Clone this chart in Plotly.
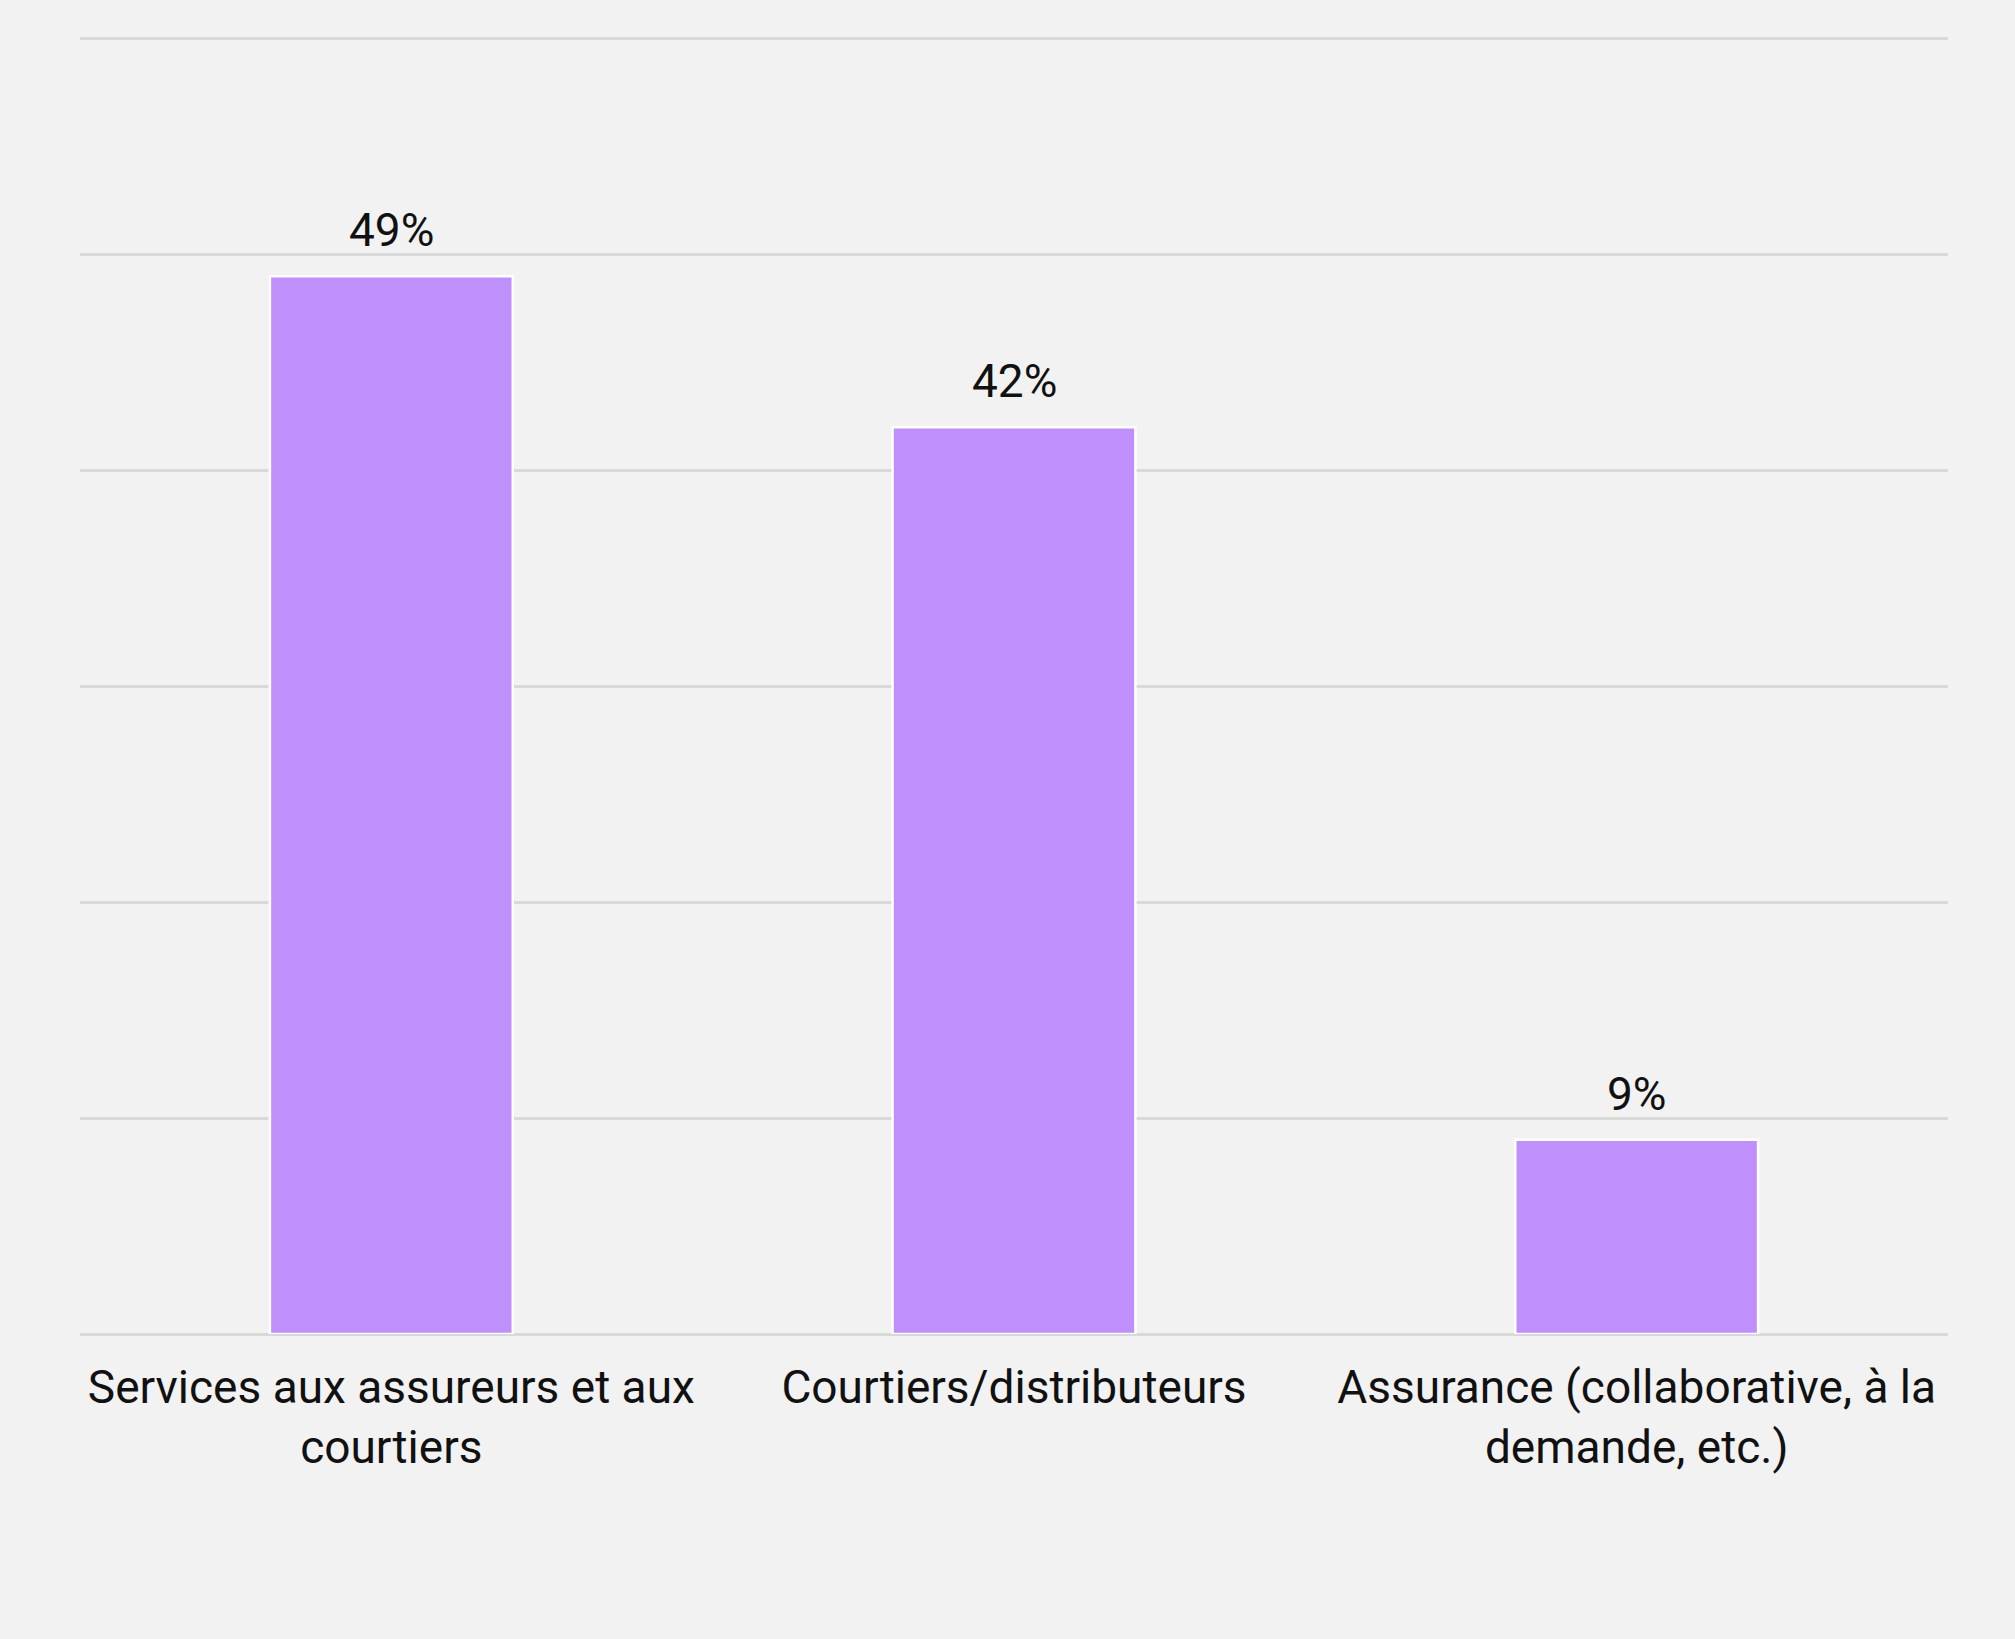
import plotly.graph_objects as go

categories = ["Services aux assureurs et aux<br>courtiers", "Courtiers/distributeurs",
              "Assurance (collaborative, à la<br>demande, etc.)"]
values = [49, 42, 9]
value_labels = ["49%", "42%", "9%"]
y_ticks = [0, 10, 20, 30, 40, 50, 60]

FONT = "Roboto"
fig = go.Figure()
fig.add_trace(go.Bar(
    x=categories, y=values,
    marker=dict(color="#bf8ffc", line=dict(color="#ffffff", width=2.5)),
    hoverinfo="skip",
))
for c, v, t in zip(categories, values, value_labels):
    fig.add_annotation(x=c, y=v, text=t, showarrow=False, yanchor="bottom", yshift=17,
                       font=dict(family=FONT, size=46, color="#111111"))

fig.update_layout(
    width=2015, height=1639,
    margin=dict(l=80, r=67, t=28, b=305),
    paper_bgcolor="#f2f2f2", plot_bgcolor="#f2f2f2",
    bargap=0.61, showlegend=False,
    font=dict(family=FONT, size=46, color="#111111"),
)
fig.update_yaxes(range=[0, 60.5], tickvals=y_ticks, showticklabels=False,
                 showgrid=True, gridcolor="#d9d9d9", gridwidth=2.5,
                 zeroline=True, zerolinecolor="#d9d9d9", zerolinewidth=2.5, showline=False)
fig.update_xaxes(showgrid=False, showline=False, ticks="", ticklabelstandoff=22,
                 tickfont=dict(family=FONT, size=46, color="#111111"))

fig.write_html("out.html", config={"displayModeBar": False},
               post_script="document.body.style.margin='0';document.body.style.background='#f2f2f2';")
